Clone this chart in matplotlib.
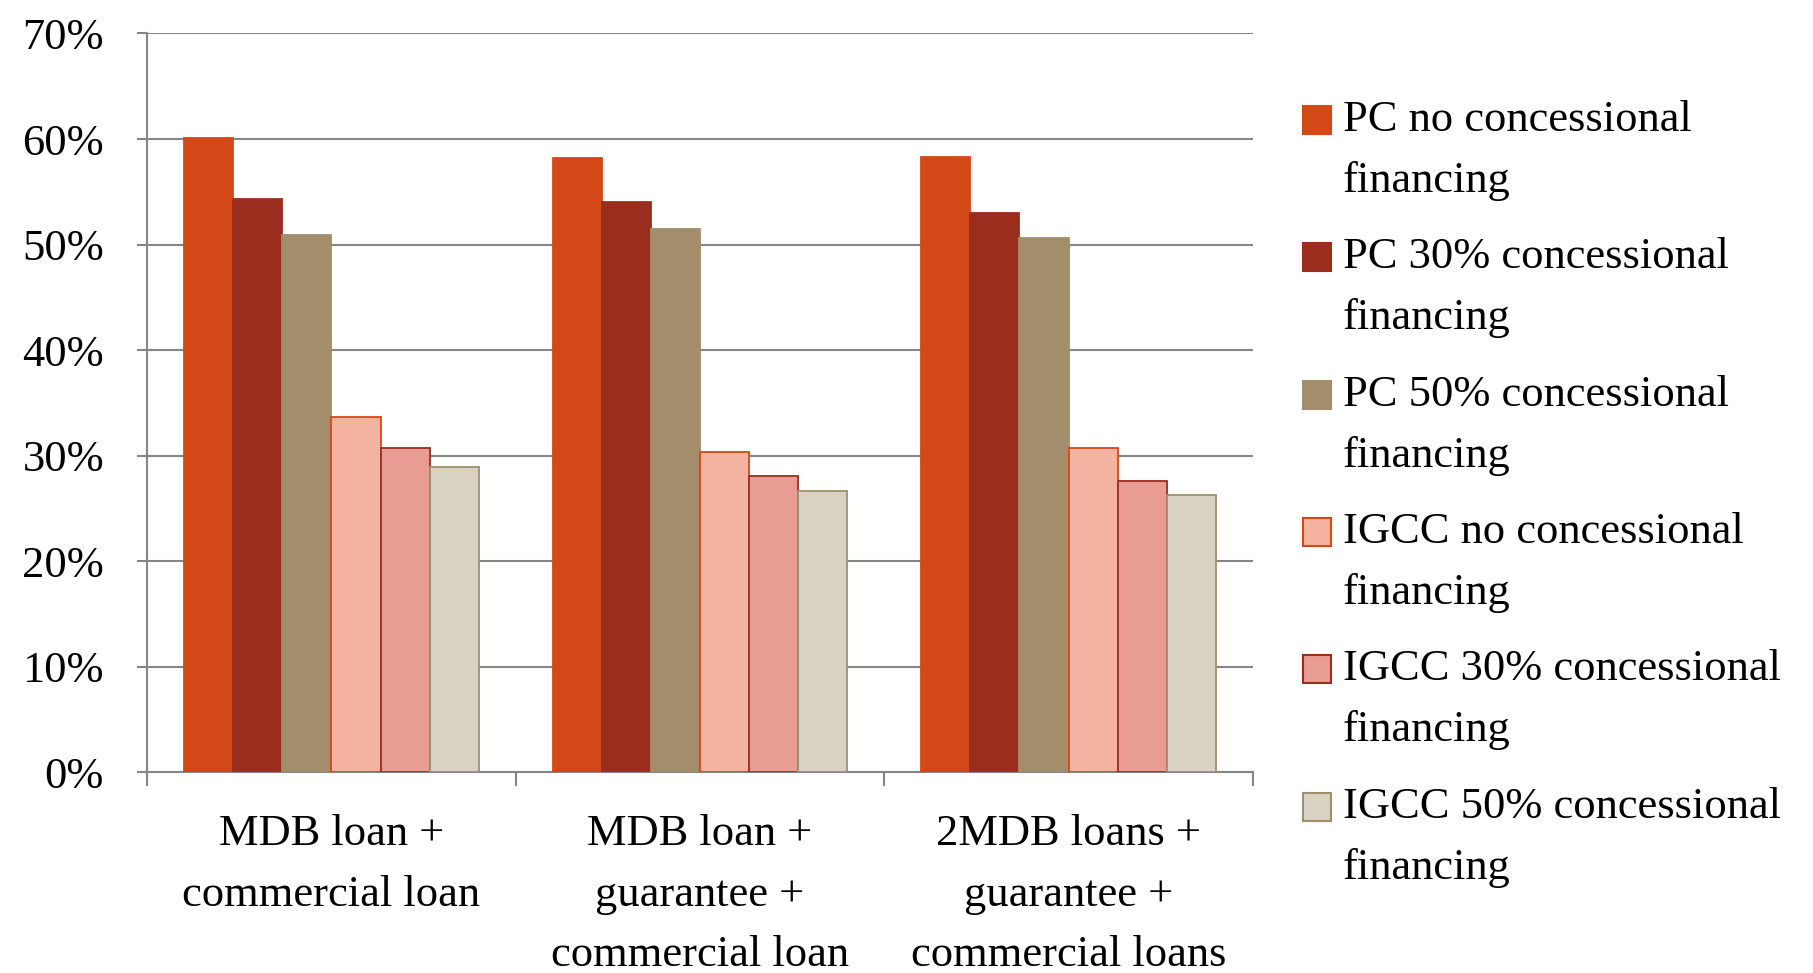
import matplotlib.pyplot as plt
from matplotlib.patches import Rectangle
import numpy as np

plt.rcParams['font.family'] = ['Liberation Serif', 'DejaVu Serif']

# Categories and series
categories = ['MDB loan +\ncommercial loan',
              'MDB loan +\nguarantee +\ncommercial loan',
              '2MDB loans +\nguarantee +\ncommercial loans']
series = ['PC no concessional\nfinancing',
          'PC 30% concessional\nfinancing',
          'PC 50% concessional\nfinancing',
          'IGCC no concessional\nfinancing',
          'IGCC 30% concessional\nfinancing',
          'IGCC 50% concessional\nfinancing']
pc_no = [60.1, 58.2, 58.3]
pc_30 = [54.3, 54.0, 53.0]
pc_50 = [50.9, 51.5, 50.6]
igcc_no = [33.7, 30.4, 30.7]
igcc_30 = [30.7, 28.1, 27.6]
igcc_50 = [28.9, 26.7, 26.3]
values = [pc_no, pc_30, pc_50, igcc_no, igcc_30, igcc_50]

fills = ['#D34817', '#9B2D1F', '#A28E6A', '#F3B3A0', '#E99C93', '#D9D2C2']
edges = ['#D34817', '#9B2D1F', '#A28E6A', '#D34817', '#9B2D1F', '#A28E6A']
FS = 32

fig = plt.figure(figsize=(18.13, 9.73), dpi=100)
ax = fig.add_axes([0.0811, 0.2061, 0.61, 0.7595])

x = np.arange(len(categories))
width = 0.8 / len(series)
for i, vals in enumerate(values):
    offset = (i - (len(series) - 1) / 2) * width
    ax.bar(x + offset, vals, width, color=fills[i], edgecolor=edges[i],
           linewidth=1.3, zorder=3)

ax.set_xlim(-0.5, len(categories) - 0.5)
ax.set_ylim(0, 70)
ax.set_yticks(np.arange(0, 71, 10))
ax.set_yticklabels([f'{v}%' for v in range(0, 71, 10)], fontsize=FS)
ax.yaxis.grid(True, color='#868686', linewidth=1.5, zorder=0)

# category labels centred, boundary ticks between groups
ax.set_xticks(x)
ax.set_xticklabels(categories, fontsize=FS, linespacing=1.66)
ax.tick_params(axis='x', length=0, pad=30)
ax.set_xticks(np.arange(-0.5, len(categories)), minor=True)
ax.tick_params(axis='x', which='minor', length=10, width=1.5, color='#868686')
ax.tick_params(axis='y', length=7, width=1.5, color='#868686', pad=24)

for side in ['top', 'right']:
    ax.spines[side].set_visible(False)
for side in ['left', 'bottom']:
    ax.spines[side].set_color('#868686')
    ax.spines[side].set_linewidth(1.5)

# legend drawn as squares and two-line labels on the right
W, H = fig.get_size_inches() * fig.dpi
sq = 28
y0 = 120
step = 137.3
for i, label in enumerate(series):
    yc = y0 + i * step
    fig.patches.append(Rectangle((1303 / W, 1 - (yc + sq / 2) / H), sq / W, sq / H,
                                 transform=fig.transFigure, facecolor=fills[i],
                                 edgecolor=edges[i], linewidth=1.5))
    top_line, bottom_line = label.split('\n')
    fig.text(1343 / W, 1 - yc / H, top_line, fontsize=FS, va='center', ha='left')
    fig.text(1343 / W, 1 - (yc + 61) / H, bottom_line, fontsize=FS, va='center', ha='left')

fig.savefig('out.png', dpi=100, facecolor='white')
